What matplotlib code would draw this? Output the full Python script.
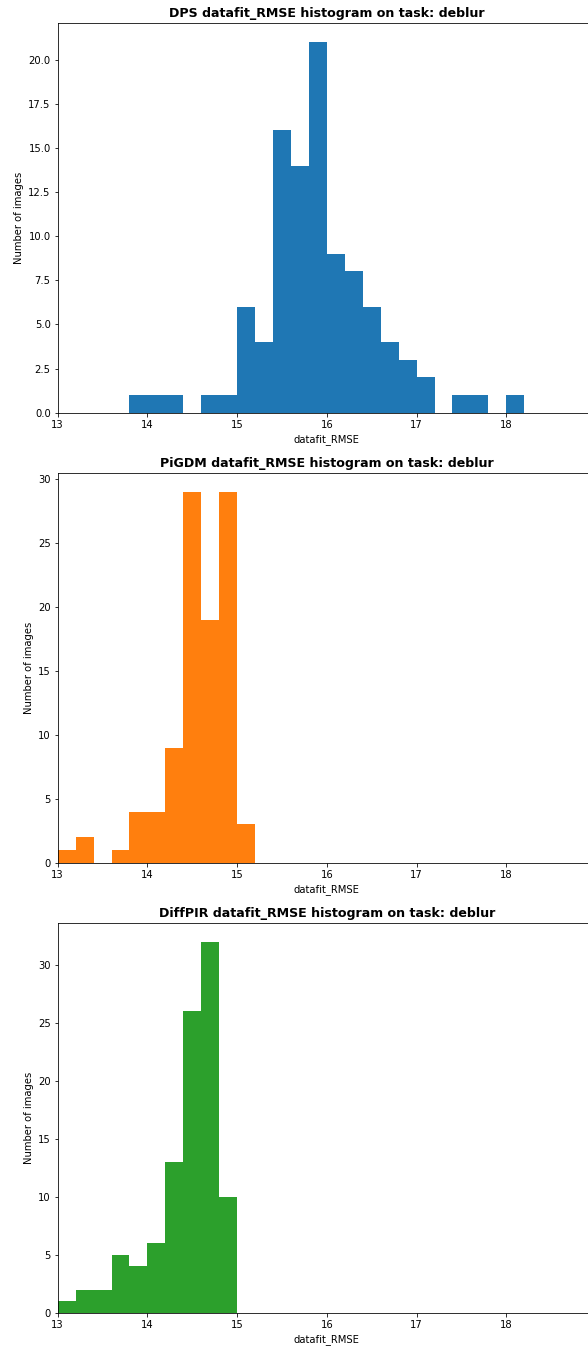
import numpy as np
import matplotlib
matplotlib.use("Agg")
import matplotlib.pyplot as plt

# Histogram bins (width 0.2) and counts
bin_edges = np.round(13.0 + 0.2 * np.arange(27), 1)   # 13.0 .. 18.2

methods = ["DPS", "PiGDM", "DiffPIR"]
colors = ["#1f77b4", "#ff7f0e", "#2ca02c"]

dps_counts = [0, 0, 0, 0, 1, 1, 1, 0, 1, 1, 6, 4, 16, 14, 21, 9, 8, 6, 4, 3, 2, 0, 1, 1, 0, 1]
pigdm_counts = [1, 2, 0, 1, 4, 4, 9, 29, 19, 29, 3, 0, 0, 0, 0, 0, 0, 0, 0, 0, 0, 0, 0, 0, 0, 0]
diffpir_counts = [1, 2, 2, 5, 4, 6, 13, 26, 32, 10, 0, 0, 0, 0, 0, 0, 0, 0, 0, 0, 0, 0, 0, 0, 0, 0]

all_counts = [dps_counts, pigdm_counts, diffpir_counts]
xticks = [13, 14, 15, 16, 17, 18]

fig = plt.figure(figsize=(588 / 72, 1351 / 72), dpi=72)

# axes placement in figure fractions (top to bottom); right edge runs past the picture
bottoms = [0.6945, 0.3614, 0.02835]
left, width, height = 0.0981, 0.9155, 0.2882

for method, counts, color, bottom in zip(methods, all_counts, colors, bottoms):
    ax = fig.add_axes([left, bottom, width, height])
    centers = bin_edges[:-1] + 0.1
    ax.hist(centers, bins=bin_edges, weights=counts, color=color)
    ax.set_xlim(13, 19)
    ax.set_xticks(xticks)
    ax.set_title(f"{method} datafit_RMSE histogram on task: deblur",
                 fontweight="bold", fontsize=12.6)
    ax.set_xlabel("datafit_RMSE")
    ax.set_ylabel("Number of images")

fig.savefig("out.png", dpi=72)
